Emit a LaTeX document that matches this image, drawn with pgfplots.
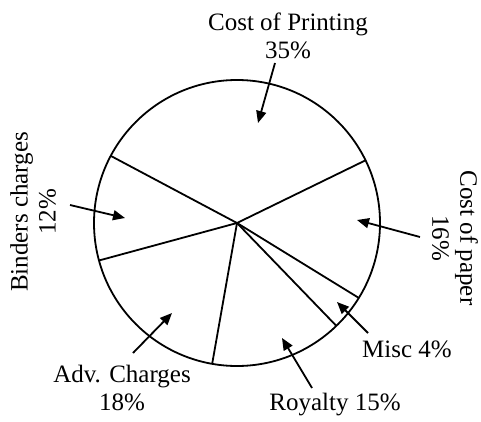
\documentclass[border=0pt]{standalone}
\usepackage{fontspec}
\setmainfont{Liberation Serif}
\usepackage{pgfplots}
\pgfplotsset{compat=1.18}
\usetikzlibrary{arrows.meta}

\begin{document}
\begin{tikzpicture}
\begin{axis}[
  width=481pt, height=421pt, scale only axis,
  xmin=-237, xmax=244, ymin=-198, ymax=223,
  hide axis, clip=false,
  edge/.style={black, solid, line width=1.8pt, no marks, data cs=polar},
]
\path (axis cs:-237,-198) rectangle (axis cs:244,223);
% circle outline, radius 143
\draw[line width=1.8pt] (axis cs:0,0) circle[radius=143];
% slice boundaries: start 152 deg, clockwise by 3.6 deg per percent
% Printing 35, Paper 16, Misc 4, Royalty 15, Adv 18, Binders 12
\addplot[edge] coordinates {(152,0) (152,143)};
\addplot[edge] coordinates {(26,0) (26,143)};
\addplot[edge] coordinates {(-31.6,0) (-31.6,143)};
\addplot[edge] coordinates {(-46,0) (-46,143)};
\addplot[edge] coordinates {(-100,0) (-100,143)};
\addplot[edge] coordinates {(-164.8,0) (-164.8,143)};

\tikzset{lab/.style={font=\fontsize{25}{28}\selectfont, align=center, inner sep=0pt},
         arr/.style={line width=1.8pt, -{Triangle[length=12pt,width=10pt]}}}
\node[lab] at (axis cs:51,187) {Cost of Printing\\35\%};
\draw[arr] (axis cs:38,160) -- (axis cs:21,100);
\node[lab, rotate=90] at (axis cs:-204,11) {Binders charges\\12\%};
\draw[arr] (axis cs:-167,18) -- (axis cs:-112,5);
\node[lab, rotate=-90] at (axis cs:218,-15) {Cost of paper\\16\%};
\draw[arr] (axis cs:183,-14) -- (axis cs:120,3);
\node[lab] at (axis cs:170,-126) {Misc 4\%};
\draw[arr] (axis cs:131,-110) -- (axis cs:100,-79);
\node[lab] at (axis cs:98,-182) {Royalty 15\%};
\draw[arr] (axis cs:75,-165) -- (axis cs:45,-115);
\node[lab] at (axis cs:-115,-165) {Adv. Charges\\18\%};
\draw[arr] (axis cs:-104,-130) -- (axis cs:-65,-90);
\end{axis}
\end{tikzpicture}
\end{document}
